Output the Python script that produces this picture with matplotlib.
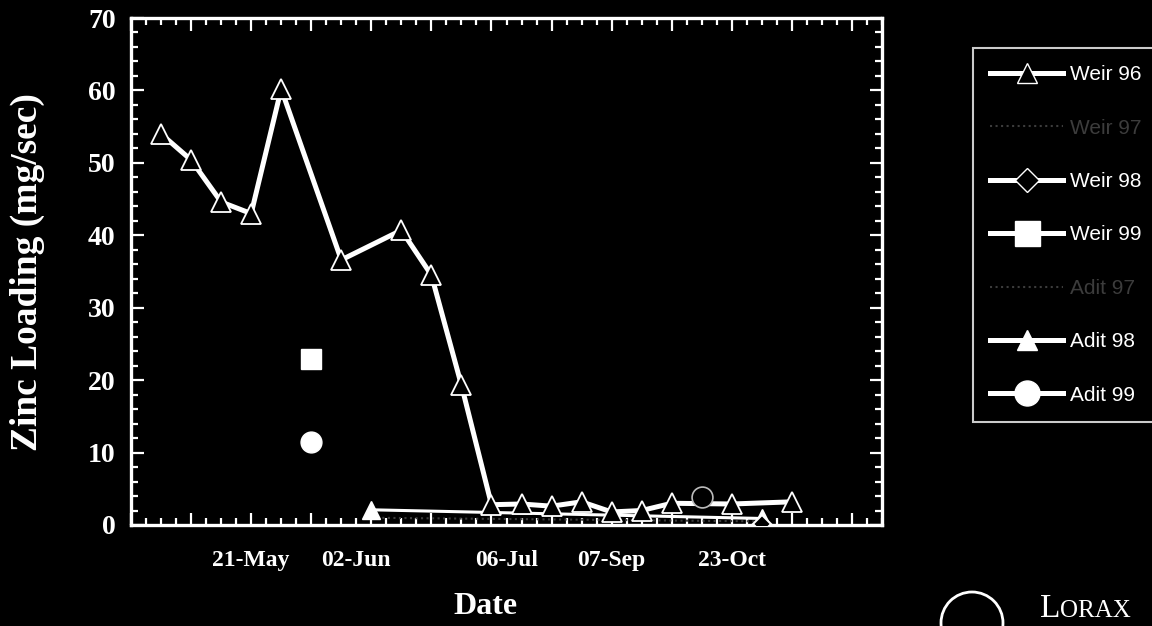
import matplotlib
matplotlib.use("Agg")
import matplotlib.pyplot as plt
from matplotlib.lines import Line2D
from matplotlib.patches import Ellipse
from matplotlib.ticker import MultipleLocator

# Sample sequence numbers (x) and zinc loadings (mg/sec)
weir96_x = [1, 2, 3, 4, 5, 7, 9, 10, 11, 12, 13, 14, 15, 16, 17, 18, 20, 22]
weir96_y = [54.0, 50.4, 44.6, 43.0, 60.2, 36.6, 40.7, 34.5, 19.3, 2.8,
            2.9, 2.6, 3.2, 1.8, 2.0, 3.0, 2.9, 3.2]
weir97_x = [8, 21]
weir97_y = [1.0, 0.5]
weir98_x = [21]
weir98_y = [0.2]
weir99_x = [6]
weir99_y = [22.9]
adit97_x = [19]
adit97_y = [3.8]
adit98_x = [8, 21]
adit98_y = [2.1, 0.9]
adit99_x = [6]
adit99_y = [11.5]

date_labels = ["21-May", "02-Jun", "06-Jul", "07-Sep", "23-Oct"]
date_label_x = [4, 7.5, 12.5, 16, 20]

FG = "white"
DIM = "#3c3c3c"
W, H = 1152, 626

fig = plt.figure(figsize=(W / 100, H / 100), dpi=100, facecolor="black")
ax = fig.add_axes([131 / W, 1 - 525 / H, 751 / W, 507 / H])
ax.set_facecolor("black")

lw = 3.6
ax.plot(weir97_x, weir97_y, color=DIM, lw=1.5, ls=":", zorder=2)
ax.plot(adit98_x, adit98_y, color=FG, lw=2.2, marker="^", ms=13,
        mfc=FG, mec=FG, zorder=3)
ax.plot(weir98_x, weir98_y, color=FG, lw=2.2, marker="D", ms=9,
        mfc="black", mec=FG, mew=1.5, zorder=3)
ax.plot(weir96_x, weir96_y, color=FG, lw=lw, marker="^", ms=14,
        mfc="black", mec=FG, mew=1.3, zorder=4)
ax.plot(weir99_x, weir99_y, ls="none", marker="s", ms=15, mfc=FG, mec=FG,
        zorder=5)
ax.plot(adit99_x, adit99_y, ls="none", marker="o", ms=15, mfc=FG, mec=FG,
        zorder=5)
ax.plot(adit97_x, adit97_y, ls="none", marker="o", ms=15, mfc="black",
        mec="#bbbbbb", mew=1.2, zorder=6)

ax.set_xlim(0, 25)
ax.set_ylim(0, 70)

for s in ax.spines.values():
    s.set_color(FG)
    s.set_linewidth(2.4)

ax.xaxis.set_major_locator(MultipleLocator(2))
ax.xaxis.set_minor_locator(MultipleLocator(0.5))
ax.yaxis.set_major_locator(MultipleLocator(10))
ax.yaxis.set_minor_locator(MultipleLocator(2))
ax.tick_params(which="both", direction="in", colors=FG, top=True, right=True,
               width=1.6)
ax.tick_params(which="major", length=9)
ax.tick_params(which="minor", length=5)
ax.tick_params(axis="x", labelbottom=False)
ax.tick_params(axis="y", pad=11)

serif_bold = dict(family="Liberation Serif", weight="bold", color=FG)
for lab in ax.get_yticklabels():
    lab.set_fontfamily("Liberation Serif")
    lab.set_fontweight("bold")
    lab.set_fontsize(20)

for xv, txt in zip(date_label_x, date_labels):
    ax.text(xv, -0.05, txt, transform=ax.get_xaxis_transform(),
            ha="center", va="top", fontsize=17, **serif_bold)

fig.text(27 / W, 1 - 272 / H, "Zinc Loading (mg/sec)", rotation=90,
         ha="center", va="center", fontsize=27, **serif_bold)
fig.text(485 / W, 1 - 607 / H, "Date", ha="center", va="center",
         fontsize=23, **serif_bold)

# Legend built from explicit handles
handles = [
    Line2D([], [], color=FG, lw=lw, marker="^", ms=15, mfc="black", mec=FG),
    Line2D([], [], color=DIM, lw=1.5, ls=":"),
    Line2D([], [], color=FG, lw=lw, marker="D", ms=12, mfc="black", mec=FG),
    Line2D([], [], color=FG, lw=lw, marker="s", ms=18, mfc=FG, mec=FG),
    Line2D([], [], color=DIM, lw=1.5, ls=":"),
    Line2D([], [], color=FG, lw=lw, marker="^", ms=15, mfc=FG, mec=FG),
    Line2D([], [], color=FG, lw=lw, marker="o", ms=18, mfc=FG, mec=FG),
]
labels = ["Weir 96", "Weir 97", "Weir 98", "Weir 99", "Adit 97", "Adit 98",
          "Adit 99"]
leg = fig.legend(handles, labels, loc="upper left",
                 bbox_to_anchor=(973 / W, 1 - 48 / H),
                 frameon=True, facecolor="black", edgecolor=FG,
                 fancybox=False, borderaxespad=0, handlelength=3.5,
                 handletextpad=0.35, labelspacing=1.65, borderpad=0.83,
                 prop=dict(family="Liberation Sans", size=15))
leg.get_frame().set_linewidth(1.5)
for i, t in enumerate(leg.get_texts()):
    t.set_color(DIM if labels[i].endswith("97") else FG)

# Logo mark in the corner
globe = Ellipse((972 / W, 1 - 623 / H), 62 / W, 62 / H,
                transform=fig.transFigure, facecolor="none", edgecolor=FG,
                lw=2.0)
fig.patches.append(globe)
fig.text(1040 / W, 1 - 617 / H, "L", fontsize=24, family="Liberation Serif",
         color=FG, ha="left", va="baseline")
fig.text(1060 / W, 1 - 617 / H, "ORAX", fontsize=18, family="Liberation Serif",
         color=FG, ha="left", va="baseline")

fig.savefig("out.png", dpi=100, facecolor="black")
